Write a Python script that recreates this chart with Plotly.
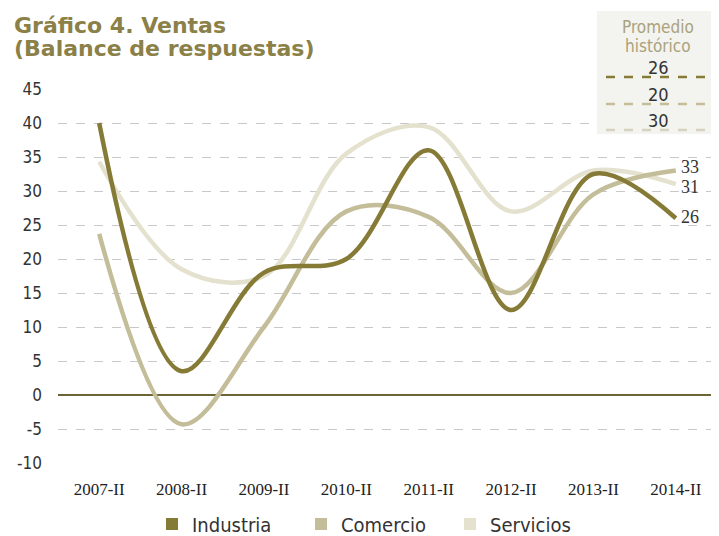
import plotly.graph_objects as go

categories = ["2007-II", "2008-II", "2009-II", "2010-II", "2011-II", "2012-II", "2013-II", "2014-II"]
industria = [40, 3.5, 18, 20, 36, 12.5, 32.5, 26]
comercio = [23.7, -4.3, 10, 27, 26.2, 15, 29.5, 33]
servicios = [34.3, 18.5, 17.5, 35.5, 39.4, 27, 33, 31]
series_names = ["Industria", "Comercio", "Servicios"]
series_colors = ["#867b36", "#c3be99", "#e4e1cf"]
promedio_historico = [26, 20, 30]
y_ticks = [45, 40, 35, 30, 25, 20, 15, 10, 5, 0, -5, -10]
y_tick_labels = ["45", "40", "35", "30", "25", "20", "15", "10", "5", "0", "-5", "-10"]

OFF = 8  # page body margin
W, H = 719 - OFF, 536 - OFF
# plot area in reference pixels: x 58..717, y 89..463
ML = 58 - OFF
MR = W - (717 - OFF)
MT = 89 - OFF
MB = H - (463 - OFF)
PW, PH = W - ML - MR, H - MT - MB

def px_x(px):
    return (px - OFF - ML) / PW

def px_y(py):
    return (H - MB - (py - OFF)) / PH

xi = list(range(len(categories)))
fig = go.Figure()
for name, vals, col in reversed(list(zip(series_names, [industria, comercio, servicios], series_colors))):
    fig.add_trace(go.Scatter(x=xi, y=vals, mode="lines", name=name,
                             line=dict(color=col, width=4.5, shape="spline", smoothing=1.0),
                             showlegend=False, hoverinfo="skip"))

for name, col in zip(series_names, series_colors):
    fig.add_trace(go.Scatter(x=[None], y=[None], mode="markers", name=name,
                             marker=dict(symbol="square", size=17, color=col)))

# end labels
for vals, ys in zip([industria, comercio, servicios], [1, 4, -3]):
    fig.add_annotation(x=xi[-1], y=vals[-1], text=str(round(vals[-1])), showarrow=False,
                       xanchor="left", xshift=3, yshift=ys,
                       font=dict(family="Liberation Serif", size=18, color="#333333"))

# title (two lines, tight leading)
for txt, cy in [("<b>Gráfico 4. Ventas</b>", 25), ("<b>(Balance de respuestas)</b>", 48)]:
    fig.add_annotation(x=px_x(12), y=px_y(cy), xref="paper", yref="paper", xanchor="left", yanchor="middle",
                       text=txt, showarrow=False, align="left",
                       font=dict(family="DejaVu Sans", size=22, color="#8a8048"))

# promedio historico box
fig.add_shape(type="rect", xref="paper", yref="paper", x0=px_x(597), x1=px_x(713),
              y0=px_y(134), y1=px_y(11), fillcolor="#f3f3ef", line=dict(width=0), layer="above")
for txt, cy in [("Promedio", 27), ("histórico", 46)]:
    fig.add_annotation(x=px_x(658), y=px_y(cy), xref="paper", yref="paper", xanchor="center",
                       yanchor="middle", text=txt, showarrow=False,
                       font=dict(family="DejaVu Sans Condensed", size=17, color="#aaa27c"))
for val, col, ty, ly in zip(promedio_historico, series_colors, [67, 94, 120], [77, 104, 130]):
    fig.add_annotation(x=px_x(658), y=px_y(ty), xref="paper", yref="paper", xanchor="center",
                       yanchor="middle", text=str(val), showarrow=False,
                       font=dict(family="DejaVu Sans Condensed", size=18, color="#333333"))
    fig.add_shape(type="line", xref="paper", yref="paper", x0=px_x(606), x1=px_x(710),
                  y0=px_y(ly), y1=px_y(ly), line=dict(color=col if col != "#e4e1cf" else "#d6d3bf",
                                                       width=2.5, dash="dash"), layer="above")

fig.update_layout(
    width=W, height=H, margin=dict(l=ML, r=MR, t=MT, b=MB, autoexpand=False),
    paper_bgcolor="white", plot_bgcolor="white",
    legend=dict(orientation="h", x=px_x(152), xanchor="left", y=px_y(524), yanchor="middle",
                font=dict(family="DejaVu Sans Condensed", size=20, color="#333333"),
                itemsizing="constant", tracegroupgap=0, itemwidth=30,
                entrywidth=104, entrywidthmode="pixels"),
    xaxis=dict(range=[-0.5, 7.5], tickmode="array", tickvals=xi, ticktext=categories,
               showgrid=False, zeroline=False, showline=False, ticks="", automargin=False,
               ticklabelstandoff=14,
               tickfont=dict(family="Liberation Serif", size=17, color="#222222")),
    yaxis=dict(range=[-10, 45], tickmode="array", tickvals=y_ticks, ticktext=y_tick_labels,
               automargin=False,
               showgrid=True, gridcolor="#c8c8c8", griddash="dash", gridwidth=1,
               zeroline=True, zerolinecolor="#6b6535", zerolinewidth=1.5,
               showline=False, ticks="", ticklabelstandoff=15,
               tickfont=dict(family="DejaVu Sans Condensed", size=17, color="#333333")),
)
fig.write_html("out.html")
